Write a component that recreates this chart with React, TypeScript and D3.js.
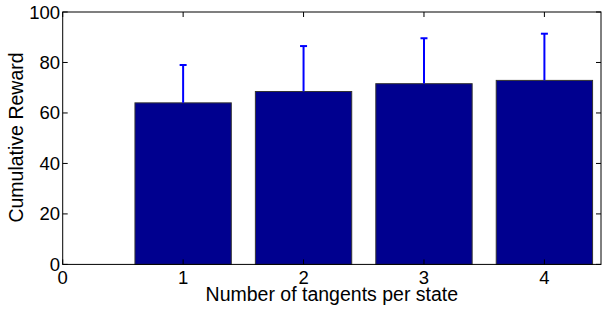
import React, { useEffect, useRef } from 'react';
import * as d3 from 'd3';

const categories = [1, 2, 3, 4];
const means = [64, 68.5, 71.6, 72.9];
const errors = [15, 18, 18, 18.5];
const xTicks = [0, 1, 2, 3, 4];
const yTicks = [0, 20, 40, 60, 80, 100];

function App() {
  const svgRef = useRef<SVGSVGElement>(null);

  useEffect(() => {
    const svg = d3.select(svgRef.current);
    svg.selectAll('*').remove();

    const left = 62.7, right = 601, top = 12, bottom = 264.4;
    const x = d3.scaleLinear().domain([0, 4.47]).range([left, right]);
    const y = d3.scaleLinear().domain([0, 100]).range([bottom, top]);
    const barW = x(0.8) - x(0);
    const font = 'Liberation Sans, Arial, sans-serif';

    const data = categories.map((c, i) => ({ c, m: means[i], e: errors[i] }));

    // bars
    svg.selectAll('.bar')
      .data(data)
      .enter()
      .append('rect')
      .attr('x', d => x(d.c) - barW / 2)
      .attr('y', d => y(d.m))
      .attr('width', barW)
      .attr('height', d => y(0) - y(d.m))
      .attr('fill', '#00008f')
      .attr('stroke', '#333')
      .attr('stroke-width', 1);

    // error bars (upper half)
    const eb = svg.append('g').attr('stroke', '#0000ff').attr('stroke-width', 2);
    data.forEach(d => {
      eb.append('line')
        .attr('x1', x(d.c)).attr('x2', x(d.c))
        .attr('y1', y(d.m)).attr('y2', y(d.m + d.e));
      eb.append('line')
        .attr('x1', x(d.c) - 3.5).attr('x2', x(d.c) + 3.5)
        .attr('y1', y(d.m + d.e)).attr('y2', y(d.m + d.e));
    });

    // box
    svg.append('rect')
      .attr('x', left).attr('y', top)
      .attr('width', right - left).attr('height', bottom - top)
      .attr('fill', 'none').attr('stroke', '#000').attr('stroke-width', 1);

    // ticks (inward, all four sides)
    const tk = svg.append('g').attr('stroke', '#000').attr('stroke-width', 1);
    xTicks.forEach(t => {
      tk.append('line').attr('x1', x(t)).attr('x2', x(t)).attr('y1', bottom).attr('y2', bottom - 5);
      tk.append('line').attr('x1', x(t)).attr('x2', x(t)).attr('y1', top).attr('y2', top + 5);
    });
    yTicks.forEach(t => {
      tk.append('line').attr('x1', left).attr('x2', left + 5).attr('y1', y(t)).attr('y2', y(t));
      tk.append('line').attr('x1', right).attr('x2', right - 5).attr('y1', y(t)).attr('y2', y(t));
    });

    // tick labels
    svg.selectAll('.xt')
      .data(xTicks)
      .enter()
      .append('text')
      .attr('x', d => x(d))
      .attr('y', 284)
      .attr('text-anchor', 'middle')
      .attr('font-family', font)
      .attr('font-size', 18.5)
      .text(d => d);

    svg.selectAll('.yt')
      .data(yTicks)
      .enter()
      .append('text')
      .attr('x', 60)
      .attr('y', d => y(d) + 6.5)
      .attr('text-anchor', 'end')
      .attr('font-family', font)
      .attr('font-size', 18.5)
      .text(d => d);

    // axis titles
    svg.append('text')
      .attr('x', (left + right) / 2)
      .attr('y', 301)
      .attr('text-anchor', 'middle')
      .attr('font-family', font)
      .attr('font-size', 19.5)
      .text('Number of tangents per state');

    svg.append('text')
      .attr('transform', `translate(23,${137.5}) rotate(-90)`)
      .attr('text-anchor', 'middle')
      .attr('font-family', font)
      .attr('font-size', 19.5)
      .text('Cumulative Reward');
  }, []);

  return (
    <svg
      ref={svgRef}
      width={606}
      height={309}
      style={{ position: 'absolute', left: 0, top: 0, background: '#fff' }}
    />
  );
}

export default App;
